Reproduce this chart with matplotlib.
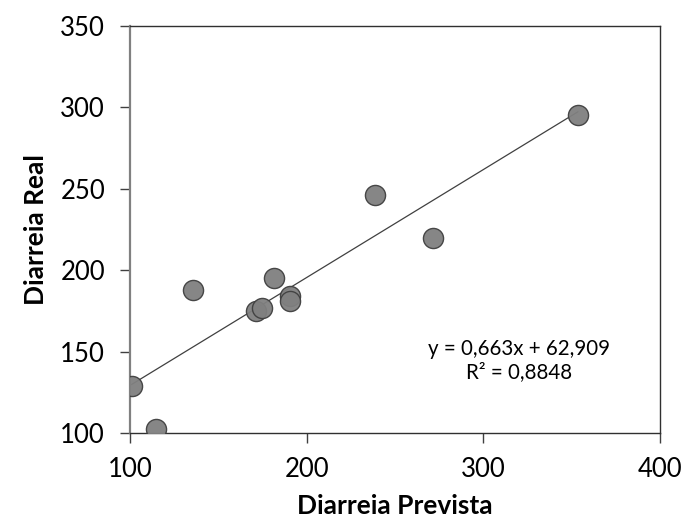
import matplotlib
matplotlib.use("Agg")
import matplotlib.pyplot as plt
import numpy as np

prevista = [101, 114.5, 135.5, 171.5, 174.5, 181.5, 190.5, 190.5, 238.5, 271.5, 353.5]
real = [129, 102.5, 188, 175, 177, 195, 184, 181, 246, 220, 295.5]
slope = 0.663
intercept = 62.909
eq_text = "y = 0,663x + 62,909\nR² = 0,8848"
xticks = [100, 200, 300, 400]
yticks = [100, 150, 200, 250, 300, 350]

plt.rcParams['font.family'] = ['Lato', 'DejaVu Sans']

fig = plt.figure(figsize=(6.84, 5.19), dpi=100)
ax = fig.add_axes([130/684, 86/519, 530/684, 407/519])

xs = np.array([min(prevista), max(prevista)])
ax.plot(xs, slope * xs + intercept, color='#404040', lw=0.9, zorder=2)
ax.scatter(prevista, real, s=210, color='#808080', edgecolors='#404040', linewidths=1.0, zorder=3, alpha=0.95)

ax.set_xlim(100, 400)
ax.set_ylim(100, 350)
ax.set_xticks(xticks)
ax.set_yticks(yticks)
ax.tick_params(axis='both', direction='out', length=7, width=1, color='#404040', labelsize=18.5)
ax.tick_params(axis='y', pad=11)
ax.tick_params(axis='x', pad=10)
for s in ['top', 'right', 'bottom']:
    ax.spines[s].set_color('#303030')
    ax.spines[s].set_linewidth(1.0)
ax.spines['left'].set_color('#808080')
ax.spines['left'].set_linewidth(1.6)

ax.set_xlabel('Diarreia Prevista', fontsize=19, fontweight='bold', labelpad=9)
ax.set_ylabel('Diarreia Real', fontsize=19, fontweight='bold', labelpad=9)

ax.text(0.734, 0.177, eq_text, transform=ax.transAxes, ha='center', va='center',
        fontsize=14.8, linespacing=1.2)

fig.savefig('out.png', dpi=100)
